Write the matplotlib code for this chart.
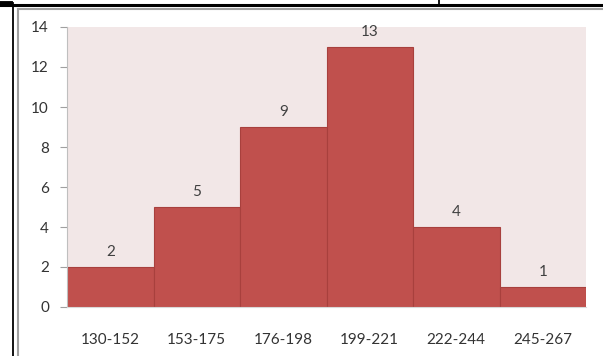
import matplotlib.pyplot as plt
from matplotlib.lines import Line2D

plt.rcParams['font.family'] = ['Lato', 'DejaVu Sans']

# datos del histograma
clases = ['130-152', '153-175', '176-198', '199-221', '222-244', '245-267']
frecuencias = [2, 5, 9, 13, 4, 1]
y_ticks = [0, 2, 4, 6, 8, 10, 12, 14]

W, H = 603, 356
fig = plt.figure(figsize=(W / 100, H / 100), dpi=100)
fig.patch.set_facecolor('white')

ax = fig.add_axes([67 / W, 1 - 307 / H, (586 - 67) / W, (307 - 27) / H])
ax.set_facecolor('#F2E7E7')

x = range(len(clases))
ax.bar(x, frecuencias, width=1.0, color='#C0504D', edgecolor='#A8403D', linewidth=0.8)

for i, v in zip(x, frecuencias):
    ax.text(i, v + 0.75, str(v), ha='center', va='center', fontsize=11, color='#404040')

ax.set_xlim(-0.5, len(clases) - 0.5)
ax.set_ylim(0, 14)
ax.set_yticks(y_ticks)
ax.set_xticks(list(x))
ax.set_xticklabels(clases)

ax.tick_params(axis='y', length=5, width=0.8, color='#A0A0A0', pad=8, labelsize=11, labelcolor='#333333')
ax.tick_params(axis='x', length=0, pad=19, labelsize=11, labelcolor='#333333')

for s in ['top', 'right']:
    ax.spines[s].set_visible(False)
ax.spines['left'].set_color('#BFBFBF')
ax.spines['bottom'].set_color('#D9D9D9')

# bordes de la tabla y del marco del grafico
def linea(x0, y0, x1, y1, color, lw):
    fig.add_artist(Line2D([x0 / W, x1 / W], [1 - y0 / H, 1 - y1 / H],
                          transform=fig.transFigure, color=color, linewidth=lw))

linea(0, 4.5, W, 4.5, 'black', 2.2)
linea(0, 2.5, 10, 2.5, 'black', 3.5)
linea(12.5, 3, 12.5, H, 'black', 1.3)
linea(439, 0, 439, 5, 'black', 1.3)
linea(17.5, 9, W, 9, '#A0A0A0', 1.5)
linea(17.5, 9, 17.5, H, '#A0A0A0', 1.5)

fig.savefig('out.png', dpi=100)
